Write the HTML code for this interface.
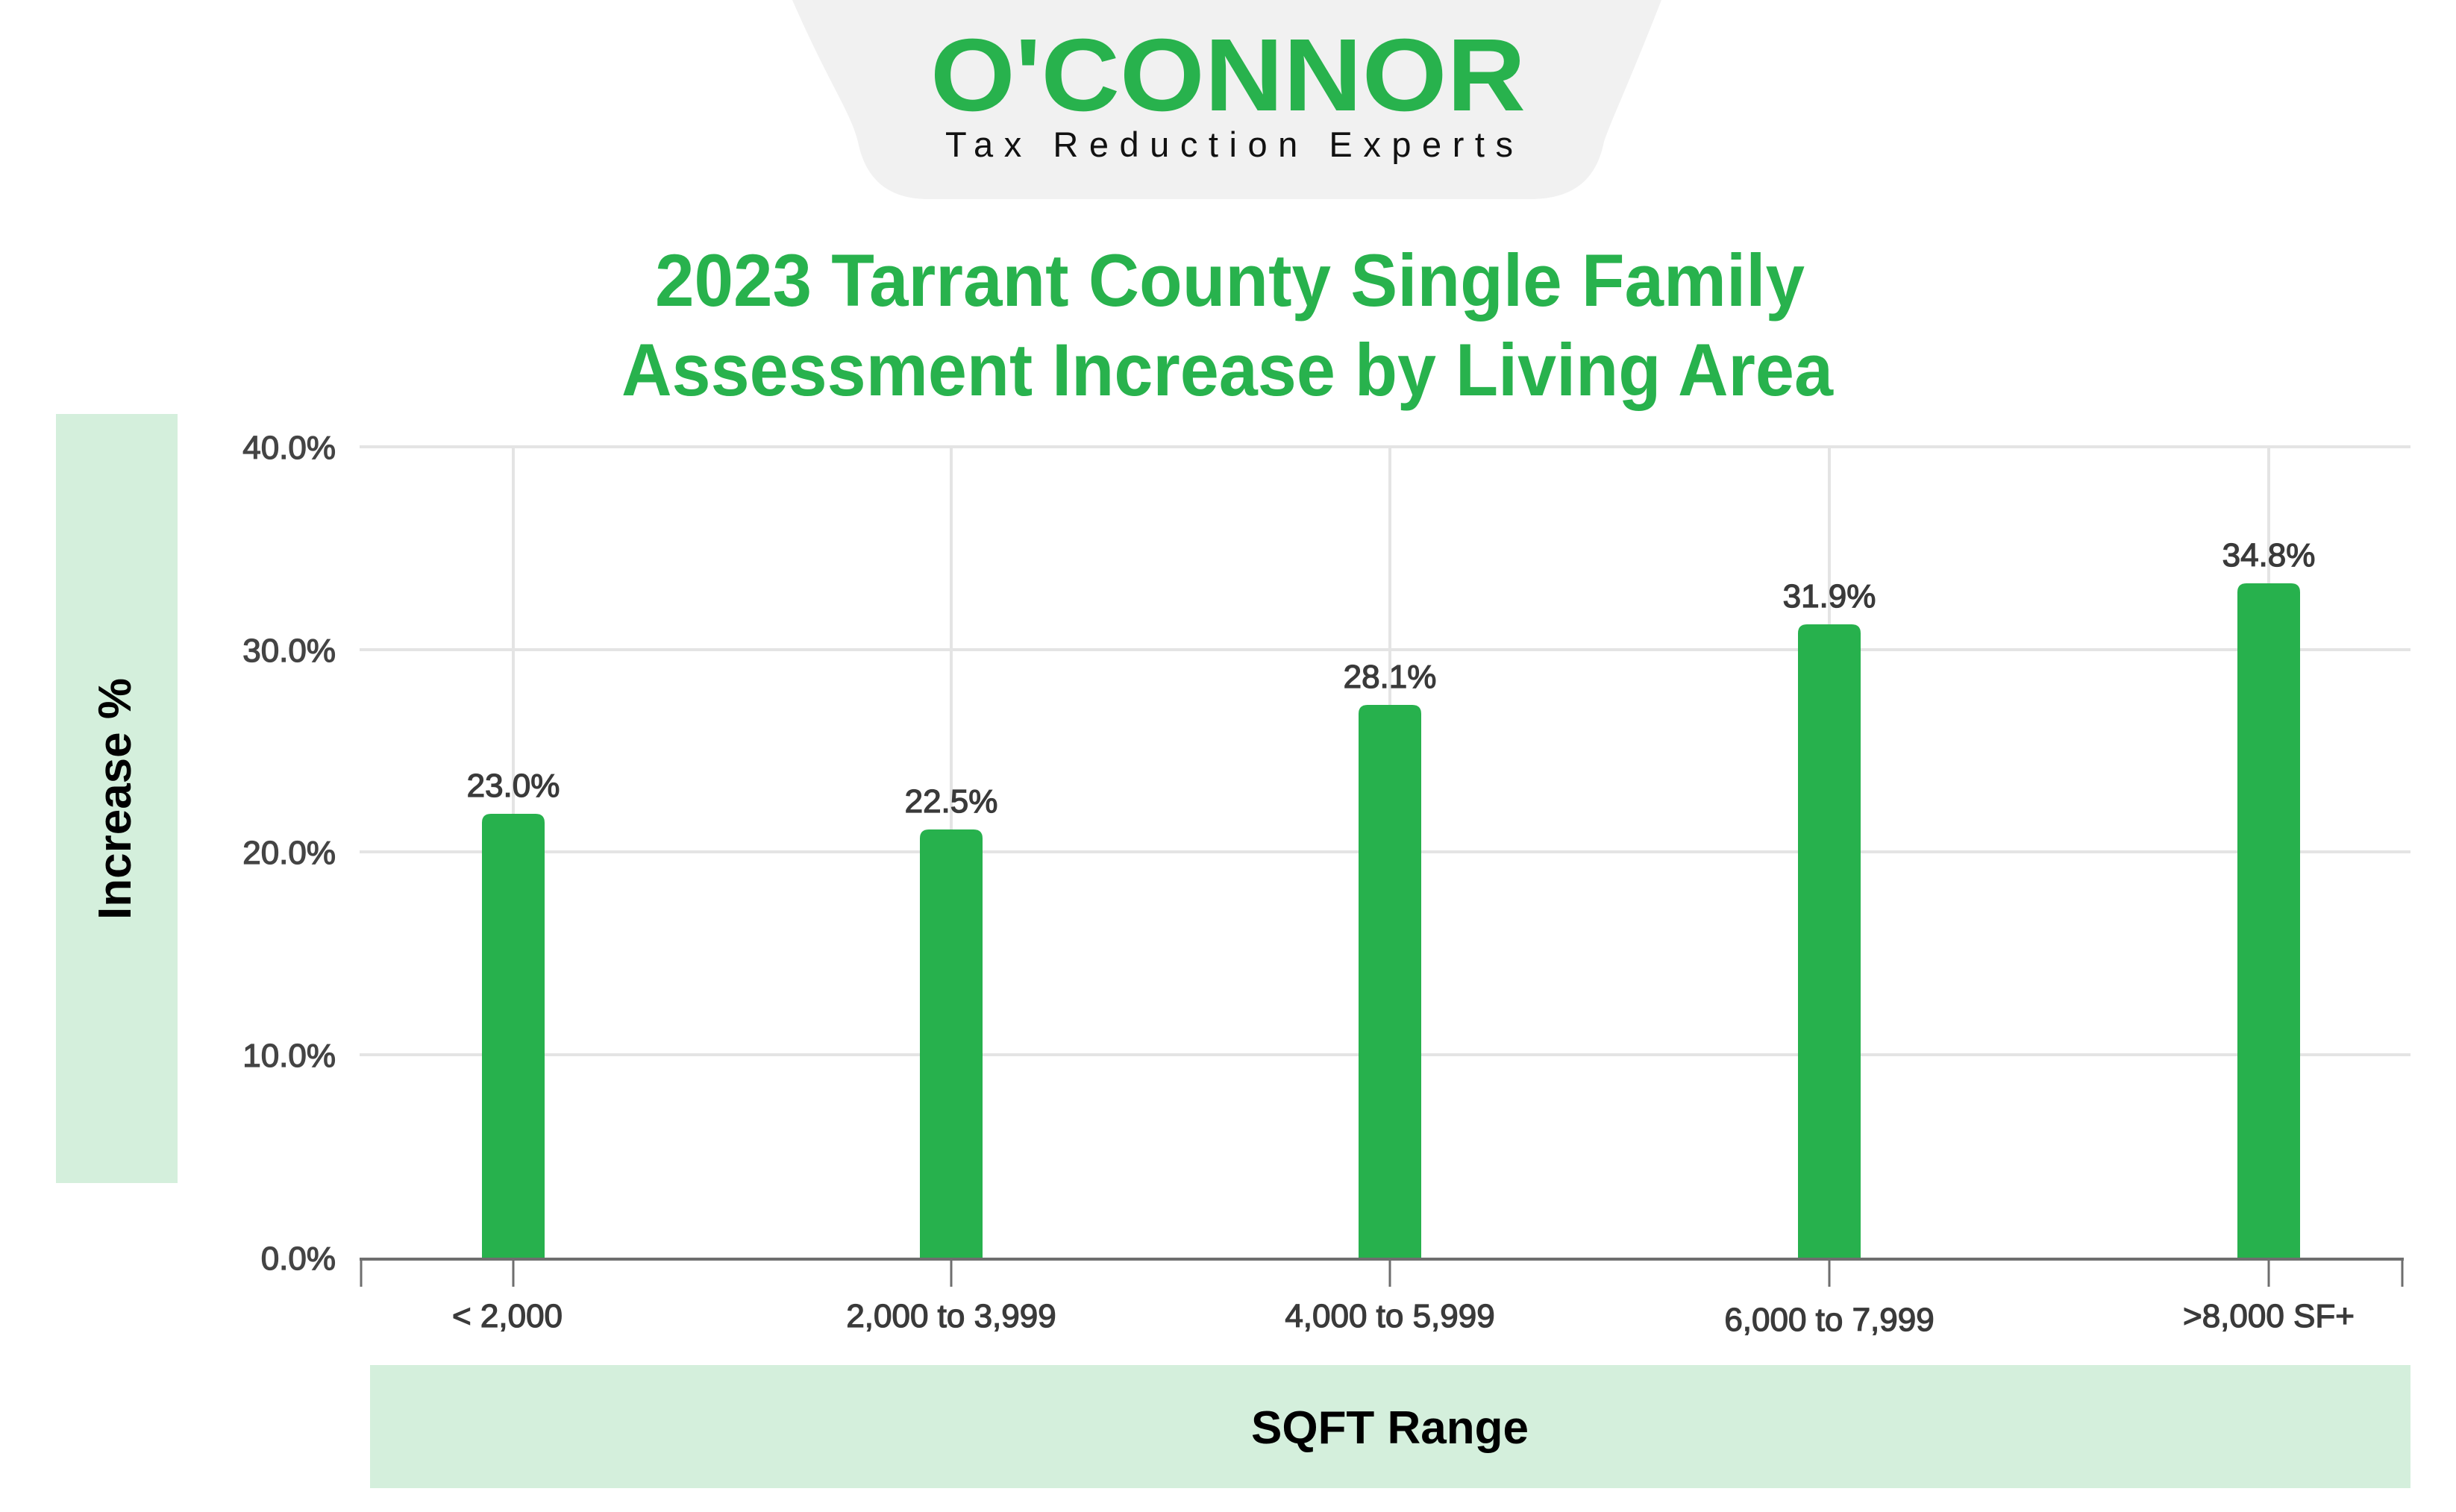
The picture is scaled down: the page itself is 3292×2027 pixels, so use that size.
<!DOCTYPE html>
<html><head><meta charset="utf-8"><style>
html,body{margin:0;padding:0;background:#fff;}
svg{display:block;}
</style></head><body>
<svg width="3292" height="2027" viewBox="0 0 3292 2027" xmlns="http://www.w3.org/2000/svg" font-family="Liberation Sans, sans-serif">
<rect width="3292" height="2027" fill="#fff"/>
<path d="M1062 0 L2227 0 C2180 120 2160 160 2150 190 C2140 240 2110 267 2050 267 L1245 267 C1190 267 1160 240 1150 190 C1140 150 1110 110 1062 0 Z" fill="#f1f1f1"/>
<text x="1247" y="148" font-size="138" font-weight="bold" fill="#28b24d" textLength="798" lengthAdjust="spacingAndGlyphs">O'CONNOR</text>
<text x="1267" y="210" font-size="47" fill="#111" textLength="761" lengthAdjust="spacing">Tax Reduction Experts</text>
<text x="878" y="410" font-size="99" font-weight="bold" fill="#28b24d" textLength="1541" lengthAdjust="spacingAndGlyphs">2023 Tarrant County Single Family</text>
<text x="833" y="530" font-size="99" font-weight="bold" fill="#28b24d" textLength="1624" lengthAdjust="spacingAndGlyphs">Assessment Increase by Living Area</text>
<rect x="75" y="555" width="163" height="1031" fill="#d4efdc"/>
<text transform="translate(175,1071) rotate(-90)" text-anchor="middle" font-size="62" font-weight="bold" fill="#000">Increase %</text>
<g stroke="#e4e4e4" stroke-width="4">
<line x1="482" y1="599" x2="3231" y2="599"/>
<line x1="482" y1="871" x2="3231" y2="871"/>
<line x1="482" y1="1142" x2="3231" y2="1142"/>
<line x1="482" y1="1414" x2="3231" y2="1414"/>
<line x1="688" y1="599" x2="688" y2="1686"/>
<line x1="1275" y1="599" x2="1275" y2="1686"/>
<line x1="1863" y1="599" x2="1863" y2="1686"/>
<line x1="2452" y1="599" x2="2452" y2="1686"/>
<line x1="3041" y1="599" x2="3041" y2="1686"/>
</g>
<g font-size="44" fill="#444" stroke="#444" stroke-width="1.3" text-anchor="end">
<text x="450" y="615">40.0%</text>
<text x="450" y="887">30.0%</text>
<text x="450" y="1158">20.0%</text>
<text x="450" y="1430">10.0%</text>
<text x="450" y="1702">0.0%</text>
</g>
<g fill="#27b14d">
<path d="M646 1686 V1103 Q646 1091 658 1091 H718 Q730 1091 730 1103 V1686 Z"/>
<path d="M1233 1686 V1124 Q1233 1112 1245 1112 H1305 Q1317 1112 1317 1124 V1686 Z"/>
<path d="M1821 1686 V957 Q1821 945 1833 945 H1893 Q1905 945 1905 957 V1686 Z"/>
<path d="M2410 1686 V849 Q2410 837 2422 837 H2482 Q2494 837 2494 849 V1686 Z"/>
<path d="M2999 1686 V794 Q2999 782 3011 782 H3071 Q3083 782 3083 794 V1686 Z"/>
</g>
<g font-size="44" fill="#3a3a3a" stroke="#3a3a3a" stroke-width="1.3" text-anchor="middle">
<text x="688" y="1068">23.0%</text>
<text x="1275" y="1089">22.5%</text>
<text x="1863" y="922">28.1%</text>
<text x="2452" y="814">31.9%</text>
<text x="3041" y="759">34.8%</text>
</g>
<line x1="482" y1="1688" x2="3222" y2="1688" stroke="#6e6e6e" stroke-width="4"/>
<g stroke="#6e6e6e" stroke-width="3">
<line x1="484" y1="1688" x2="484" y2="1725"/>
<line x1="688" y1="1688" x2="688" y2="1725"/>
<line x1="1275" y1="1688" x2="1275" y2="1725"/>
<line x1="1863" y1="1688" x2="1863" y2="1725"/>
<line x1="2452" y1="1688" x2="2452" y2="1725"/>
<line x1="3041" y1="1688" x2="3041" y2="1725"/>
<line x1="3220" y1="1688" x2="3220" y2="1725"/>
</g>
<g font-size="44" fill="#3a3a3a" stroke="#3a3a3a" stroke-width="1.3" text-anchor="middle">
<text x="680" y="1779">&lt; 2,000</text>
<text x="1275" y="1779">2,000 to 3,999</text>
<text x="1863" y="1779">4,000 to 5,999</text>
<text x="2452" y="1784">6,000 to 7,999</text>
<text x="3041" y="1779">&gt;8,000 SF+</text>
</g>
<rect x="496" y="1830" width="2735" height="165" fill="#d4efdc"/>
<text x="1863" y="1935" font-size="62" font-weight="bold" fill="#000" text-anchor="middle">SQFT Range</text>
</svg>
</body></html>
